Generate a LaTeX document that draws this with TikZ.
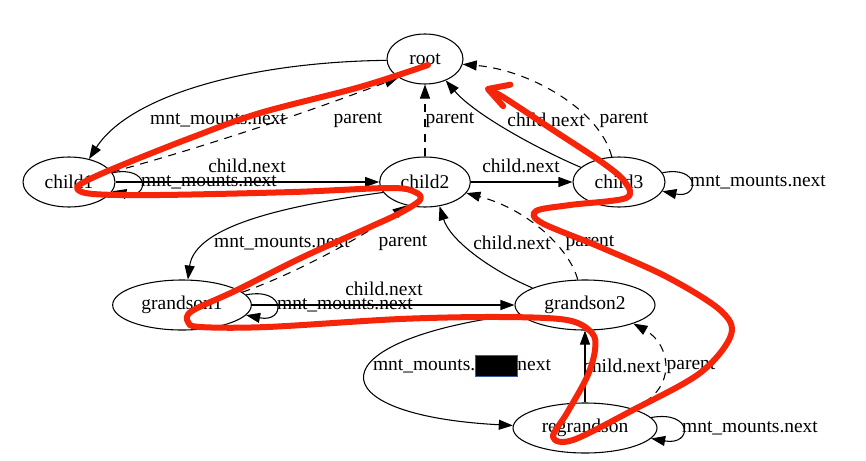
\documentclass[tikz,border=0pt]{standalone}
\usepackage{fontspec}
\setmainfont{Liberation Serif}
\usetikzlibrary{shapes.geometric,arrows.meta}
\definecolor{markred}{RGB}{246,36,8}
\definecolor{boxblue}{RGB}{60,90,160}
\begin{document}
\begin{tikzpicture}[x=0.75pt, y=-0.75pt,
        font=\fontsize{14.6pt}{16pt}\selectfont,
        ent/.style={draw, ellipse, line width=0.8pt, inner sep=0pt, minimum height=37.5pt},
        lab/.style={inner sep=0pt},
        link/.style={line width=0.8pt, -{Triangle[length=10.5pt,width=7.5pt]}},
        uplink/.style={link, dash pattern=on 6pt off 5pt},
        marker/.style={draw=markred, line width=4.5pt, line cap=round, line join=round}]
                \useasboundingbox (0,0) rectangle (866,460);

                \node[ent, minimum width=57pt] (root) at (425,59) {root};
                \node[ent, minimum width=69pt] (child1) at (69,182) {child1};
                \node[ent, minimum width=68pt] (child2) at (425,182) {child2};
                \node[ent, minimum width=69pt] (child3) at (619,182) {child3};
                \node[ent, minimum width=104pt] (grandson1) at (182,305) {grandson1};
                \node[ent, minimum width=105pt] (grandson2) at (585,305) {grandson2};
                \node[ent, minimum width=108pt] (regrandson) at (585,428) {regrandson};

                \node[lab] (lrootc1) at (218,120) {mnt\_mounts.next};
                \node[lab] (lc1root) at (358,120) {parent};
                \node[lab] (lc2root) at (450,120) {parent};
                \node[lab] (lc3rootn) at (546,120) {child.next};
                \node[lab] (lc3rootp) at (624,120) {parent};
                \node[lab] (lc1c2) at (247,166) {child.next};
                \node[lab] (lc1loop) at (209,182) {mnt\_mounts.next};
                \node[lab] (lc2c3) at (521,166) {child.next};
                \node[lab] (lc3loop) at (758,182) {mnt\_mounts.next};
                \node[lab] (lc2g1) at (282,243) {mnt\_mounts.next};
                \node[lab] (lg1c2) at (403,243) {parent};
                \node[lab] (lg2c2n) at (512,243) {child.next};
                \node[lab] (lg2c2p) at (590,243) {parent};
                \node[lab] (lg1g2) at (384,289) {child.next};
                \node[lab] (lg1loop) at (345,305) {mnt\_mounts.next};
                \node[lab] (lg2rg) at (462,366) {mnt\_mounts.{\setlength\fboxsep{0pt}\setlength\fboxrule{0.6pt}\raisebox{-4.5pt}{\fcolorbox{boxblue}{black}{\rule{0pt}{15.5pt}\rule{30.5pt}{0pt}}}}next};
                \node[lab] (lrgg2n) at (622,366) {child.next};
                \node[lab] (lrgg2p) at (691,366) {parent};
                \node[lab] (lrgloop) at (750,428) {mnt\_mounts.next};

                % root -> child1
                \draw[link] (root.182) .. controls (250,62) and (130,95) .. (child1.49);

                % child1 -> root
                \draw[uplink] (child1.13) .. controls (200,148) and (300,115) .. (root.215);

                % child1 -> child1
                \draw[link] (child1.12) .. controls (150,165) and (150,199) .. (child1.-12);

                % child1 -> child2
                \draw[link] (child1.east) -- (child2.west);

                % child2 -> root
                \draw[uplink] (child2.north) -- (root.south);

                % child2 -> child3
                \draw[link] (child2.east) -- (child3.west);

                % child3 -> root
                \draw[link] (child3.159) .. controls (540,150) and (475,115) .. (root.-46);
                \draw[uplink] (child3.106) .. controls (600,110) and (530,70) .. (root.-8);

                % child3 -> child3
                \draw[link] (child3.12) .. controls (700,165) and (700,199) .. (child3.-12);

                % child2 -> grandson1
                \draw[link] (child2.194) .. controls (290,205) and (195,225) .. (grandson1.77);

                % grandson1 -> child2
                \draw[uplink] (grandson1.12) .. controls (300,272) and (370,232) .. (child2.232);

                % grandson1 -> grandson1
                \draw[link] (grandson1.9) .. controls (286,287) and (286,323) .. (grandson1.-9);

                % grandson1 -> grandson2
                \draw[link] (grandson1.east) -- (grandson2.west);

                % grandson2 -> child2
                \draw[link] (grandson2.162) .. controls (490,270) and (450,240) .. (child2.-59);
                \draw[uplink] (grandson2.106) .. controls (570,250) and (530,210) .. (child2.-15);

                % grandson2 -> regrandson
                \draw[link] (grandson2.188) .. controls (315,340) and (315,415) .. (regrandson.178);

                % regrandson -> grandson2
                \draw[link] (regrandson.north) -- (grandson2.south);
                \draw[uplink] (regrandson.23) .. controls (678,392) and (672,345) .. (grandson2.-21);

                % regrandson -> regrandson
                \draw[link] (regrandson.9) .. controls (693,410) and (693,446) .. (regrandson.-9);

                % red stroke over the graph
                \draw[marker, -{Straight Barb[length=15pt,width=17pt,round]}] plot[smooth, tension=0.55] coordinates {
                    (428,65) (360,87) (260,113) (193,137) (127,163) (90,179) (77,188) (93,194)
                    (160,195) (293,192) (390,188) (415,192) (420,200) (400,213) (370,227)
                    (303,257) (237,290) (192,311) (188,322) (200,327) (267,327) (400,319)
                    (500,317) (567,320) (592,333) (595,350) (587,377) (567,413) (553,437)
                    (573,440) (633,410) (700,373) (731,335) (720,310) (667,277) (600,247)
                    (542,223) (536,211) (570,205) (626,198) (625,182) (603,163) (553,130)
                    (503,97) (485,88)};

\end{tikzpicture}
\end{document}
